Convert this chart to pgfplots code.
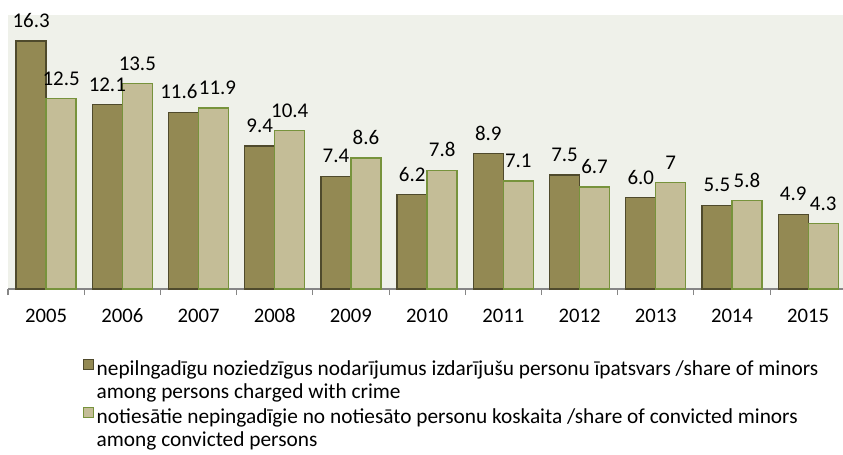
\documentclass[border=0pt]{standalone}
\usepackage{pgfplots}
\pgfplotsset{compat=1.18}
\usepackage{pgfplotstable}
\usepackage{fontspec}
\setmainfont{Carlito}
\usetikzlibrary{calc}
\definecolor{darkfill}{HTML}{938953}
\definecolor{darkline}{HTML}{4F4A2C}
\definecolor{lightfill}{HTML}{C4BD97}
\definecolor{lightline}{HTML}{77933C}
\definecolor{bgfill}{HTML}{EFF1EA}
\definecolor{axisgray}{HTML}{868686}
\pgfplotstableread{
x y lab dx
0 16.3 16.3 0
1 12.1 12.1 0
2 11.6 11.6 -3.5
3 9.4 9.4 0
4 7.4 7.4 0
5 6.2 6.2 0
6 8.9 8.9 0
7 7.5 7.5 0
8 6.0 6.0 0
9 5.5 5.5 0
10 4.9 4.9 0
}\darkdata
\pgfplotstableread{
x y lab dx
0 12.5 12.5 0
1 13.5 13.5 0
2 11.9 11.9 3
3 10.4 10.4 0
4 8.6 8.6 0
5 7.8 7.8 0
6 7.1 7.1 0
7 6.7 6.7 0
8 7 7 0
9 5.8 5.8 0
10 4.3 4.3 0
}\lightdata
\begin{document}
\begin{tikzpicture}
\begin{axis}[
  name=ax,
  scale only axis,
  width=626.25pt, height=205.5pt,
  font=\fontsize{15.5}{17}\selectfont,
  xmin=-0.5, xmax=10.457,
  ymin=0, ymax=18,
  axis x line=bottom,
  axis y line=none,
  axis line style={-, draw=axisgray, line width=0.8pt},
  axis background/.style={fill=bgfill},
  xtick={0,...,10},
  xticklabels={2005,2006,2007,2008,2009,2010,2011,2012,2013,2014,2015},
  major tick length=0pt,
  minor xtick={-0.5,0.5,...,10.5},
  minor tick length=4.5pt,
  tick align=outside,
  minor tick style={draw=axisgray, line width=0.8pt},
  xticklabel style={anchor=base, yshift=-25pt, text=black, font=\fontsize{15.5}{17}\selectfont},
  ybar,
  bar width=22.5pt,
  clip=false,
  nodes near coords,
  point meta=explicit symbolic,
  visualization depends on={\thisrow{dx} \as \labdx},
  every node near coord/.append style={font=\fontsize{15.7}{17}\selectfont, text=black, inner sep=2pt, yshift=7.5pt, xshift=\labdx pt},
  legend style={at={(axis description cs:0.0898,-0.25)}, anchor=north west, draw=none, fill=none,
    font=\fontsize{16}{17.5}\selectfont, row sep=19.5pt, inner sep=0pt},
  legend cell align=left,
  legend image code/.code={\draw[#1, line width=0.6pt] (0pt,-0.3pt) rectangle (7.5pt,7.2pt);},
]
\addplot[fill=darkfill, draw=darkline, line width=1pt, bar shift=-11.25pt] table[x=x, y=y, meta=lab] {\darkdata};
\addlegendentry{\parbox[t]{560pt}{nepilngadīgu noziedzīgus nodarījumus izdarījušu personu īpatsvars /share of minors\\among persons charged with crime}}
\addplot[fill=lightfill, draw=lightline, line width=1pt, bar shift=11.25pt] table[x=x, y=y, meta=lab] {\lightdata};
\addlegendentry{\parbox[t]{560pt}{notiesātie nepingadīgie no notiesāto personu koskaita /share of convicted minors\\among convicted persons}}
\end{axis}
\pgfresetboundingbox
\useasboundingbox ($(ax.south west)+(-6pt,-123.75pt)$) rectangle ($(ax.north east)+(0pt,11.25pt)$);
\end{tikzpicture}
\end{document}
